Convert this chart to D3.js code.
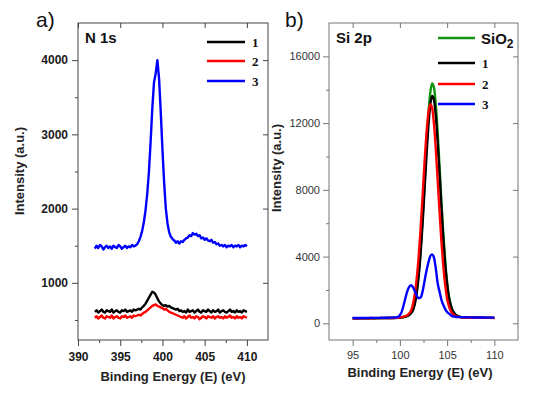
<!DOCTYPE html>
<html>
<head>
<meta charset="utf-8">
<script src="https://cdn.jsdelivr.net/npm/d3@7"></script>
<style>
  body { margin: 0; background: #fff; }
  svg { font-family: "Liberation Sans", Arial, sans-serif; }
</style>
</head>
<body>
<div id="chart"></div>
<script>
// ---- a) N 1s ----
const n1sEnergy = [
  392.0, 392.2, 392.4, 392.6, 392.8, 393.0, 393.2, 393.4, 393.6, 393.8,
  394.0, 394.2, 394.4, 394.6, 394.8, 395.0, 395.2, 395.4, 395.6, 395.8,
  396.0, 396.2, 396.4, 396.6, 396.8, 397.0, 397.2, 397.4, 397.6, 397.8,
  398.0, 398.2, 398.4, 398.6, 398.8, 399.0, 399.2, 399.4, 399.6, 399.8,
  400.0, 400.2, 400.4, 400.6, 400.8, 401.0, 401.2, 401.4, 401.6, 401.8,
  402.0, 402.2, 402.4, 402.6, 402.8, 403.0, 403.2, 403.4, 403.6, 403.8,
  404.0, 404.2, 404.4, 404.6, 404.8, 405.0, 405.2, 405.4, 405.6, 405.8,
  406.0, 406.2, 406.4, 406.6, 406.8, 407.0, 407.2, 407.4, 407.6, 407.8,
  408.0, 408.2, 408.4, 408.6, 408.8, 409.0, 409.2, 409.4, 409.6, 409.8,
  410.0
];
const n1sSample1 = [
  610, 630, 600, 620, 640, 610, 600, 630, 620, 610,
  640, 600, 620, 630, 610, 600, 630, 620, 640, 610,
  620, 630, 610, 640, 630, 640, 650, 640, 670, 690,
  720, 760, 800, 840, 880, 870, 840, 790, 750, 720,
  700, 690, 700, 680, 690, 670, 660, 650, 640, 650,
  620, 630, 610, 620, 600, 640, 610, 620, 630, 600,
  620, 640, 610, 600, 630, 620, 610, 640, 620, 600,
  630, 610, 620, 640, 600, 620, 630, 610, 600, 620,
  640, 610, 620, 600, 630, 610, 620, 600, 630, 620,
  610
];
const n1sSample2 = [
  530, 550, 520, 540, 560, 530, 520, 550, 540, 530,
  560, 520, 540, 550, 530, 520, 550, 540, 560, 530,
  540, 550, 530, 560, 550, 560, 570, 560, 580, 600,
  610, 630, 650, 670, 690, 700, 710, 690, 680, 670,
  660, 640, 650, 630, 610, 600, 590, 580, 570, 560,
  550, 540, 530, 550, 520, 540, 560, 530, 540, 520,
  550, 540, 510, 530, 550, 540, 520, 550, 540, 530,
  550, 520, 540, 550, 530, 540, 520, 550, 530, 540,
  560, 530, 540, 520, 550, 530, 540, 520, 550, 540,
  530
];
const n1sSample3 = [
  1460, 1500, 1470, 1510, 1490, 1450, 1480, 1500, 1470, 1490,
  1460, 1500, 1480, 1470, 1510, 1490, 1460, 1480, 1500, 1470,
  1490, 1480, 1510, 1490, 1500, 1520, 1560, 1620, 1700, 1820,
  1980, 2200, 2500, 2900, 3350, 3700, 3820, 4000, 3750, 3300,
  2800, 2350, 2000, 1800, 1680, 1620, 1590, 1570, 1540, 1560,
  1530, 1560, 1550, 1580, 1600, 1610, 1640, 1630, 1670, 1650,
  1660, 1630, 1640, 1600, 1610, 1580, 1600, 1570, 1560, 1580,
  1540, 1550, 1520, 1530, 1500, 1510, 1490, 1510, 1480, 1500,
  1490, 1510, 1480, 1500, 1490, 1510, 1480, 1500, 1490, 1510,
  1490
];
const n1sXTicks = [390, 395, 400, 405, 410];
const n1sXMinor = [392.5, 397.5, 402.5, 407.5];
const n1sYTicks = [1000, 2000, 3000, 4000];
const n1sYMinor = [500, 1500, 2500, 3500];

// ---- b) Si 2p ----
const si2pEnergy = [
  95, 95.5, 96, 96.5, 97, 97.5, 98, 98.5, 99, 99.5,
  99.8, 100.0, 100.2, 100.4, 100.6, 100.8, 101.0, 101.2, 101.4, 101.6,
  101.8, 102.0, 102.2, 102.4, 102.6, 102.8, 103.0, 103.2, 103.4, 103.6,
  103.8, 104.0, 104.2, 104.4, 104.6, 104.8, 105.0, 105.2, 105.4, 105.6,
  105.8, 106.0, 106.2, 106.4, 106.6, 106.8, 107.0,
  107.5, 108, 108.5, 109, 109.5, 110
];
const si2pSiO2 = [
  300, 300, 305, 300, 310, 305, 310, 315, 315, 325,
  330, 340, 360, 380, 410, 450, 520, 640, 830, 1270,
  1980, 3030, 4460, 6260, 8320, 10440, 12340, 13730, 14370, 14160,
  13120, 11440, 9380, 7270, 5320, 3700, 2460, 1590, 1080, 760,
  580, 480, 420, 390, 370, 360, 350,
  340, 335, 330, 330, 325, 325
];
const si2pSample1 = [
  300, 305, 300, 310, 305, 310, 315, 310, 320, 320,
  328, 338, 357, 376, 404, 442, 508, 623, 802, 1218,
  1891, 2885, 4240, 5944, 7895, 9903, 11702, 13018, 13624, 13425,
  12441, 10850, 8899, 6901, 5054, 3520, 2346, 1522, 1039, 736,
  565, 470, 414, 385, 366, 357, 347,
  340, 335, 330, 325, 330, 325
];
const si2pSample2 = [
  305, 300, 310, 305, 310, 315, 310, 320, 320, 325,
  336, 355, 373, 400, 437, 501, 610, 783, 1185, 1832,
  2790, 4094, 5736, 7614, 9548, 11280, 12548, 13132, 12940, 11992,
  10460, 8581, 6657, 4878, 3401, 2270, 1476, 1011, 720, 555,
  464, 409, 382, 364, 355, 346, 340,
  335, 330, 330, 325, 325, 320
];
const si2pSample3 = [
  320, 315, 325, 320, 330, 325, 330, 335, 340, 355,
  380, 480, 700, 1100, 1550, 1950, 2200, 2280, 2150, 1900,
  1650, 1500, 1550, 1900, 2500, 3100, 3600, 4000, 4130, 3950,
  3300, 2400, 1900, 1400, 1100, 850, 680, 580, 480, 420,
  400, 380, 375, 370, 365, 360, 360,
  355, 350, 345, 345, 340, 340
];
const si2pXTicks = [95, 100, 105, 110];
const si2pXMinor = [97.5, 102.5, 107.5];
const si2pYTicks = [0, 4000, 8000, 12000, 16000];
const si2pYMinor = [2000, 6000, 10000, 14000];

const svg = d3.select("#chart").append("svg")
  .attr("width", 543)
  .attr("height", 395);

const plotTop = 23, plotBottom = 340;

function drawPanel(cfg) {
  const x = d3.scaleLinear().domain(cfg.xDomain).range([cfg.left, cfg.right]);
  const y = d3.scaleLinear().domain(cfg.yDomain).range([plotBottom, plotTop]);
  const g = svg.append("g");

  g.append("clipPath").attr("id", "clip-" + cfg.id)
    .append("rect")
    .attr("x", cfg.left).attr("y", plotTop)
    .attr("width", cfg.right - cfg.left).attr("height", plotBottom - plotTop);

  // minor ticks (outside, bottom + left)
  g.append("g").attr("transform", `translate(0,${plotBottom})`)
    .call(d3.axisBottom(x).tickValues(cfg.xMinor).tickSize(3).tickFormat(""));
  g.append("g").attr("transform", `translate(${cfg.left},0)`)
    .call(d3.axisLeft(y).tickValues(cfg.yMinor).tickSize(3).tickFormat(""));

  // major ticks with labels
  g.append("g").attr("class", "lbl").attr("transform", `translate(0,${plotBottom})`)
    .call(d3.axisBottom(x).tickValues(cfg.xTicks).tickSize(6).tickPadding(cfg.xPad).tickFormat(d3.format("d")));
  g.append("g").attr("class", "lbl").attr("transform", `translate(${cfg.left},0)`)
    .call(d3.axisLeft(y).tickValues(cfg.yTicks).tickSize(6).tickPadding(cfg.yPad).tickFormat(d3.format("d")));

  // mirrored ticks (inside, top + right)
  g.append("g").attr("transform", `translate(0,${plotTop})`)
    .call(d3.axisTop(x).tickValues(cfg.xTicks).tickSize(-5).tickFormat(""));
  g.append("g").attr("transform", `translate(${cfg.right},0)`)
    .call(d3.axisRight(y).tickValues(cfg.yTicks).tickSize(-5).tickFormat(""));

  g.selectAll(".domain").remove();
  g.selectAll(".tick line").attr("stroke", cfg.axisColor);
  g.selectAll(".lbl text")
    .attr("fill", cfg.labelColor)
    .attr("font-family", '"Liberation Sans", Arial, sans-serif')
    .attr("font-size", cfg.tickFont)
    .attr("font-weight", cfg.tickWeight);

  g.append("rect")
    .attr("x", cfg.left).attr("y", plotTop)
    .attr("width", cfg.right - cfg.left).attr("height", plotBottom - plotTop)
    .attr("fill", "none").attr("stroke", cfg.axisColor).attr("stroke-width", 1);

  const line = d3.line()
    .x(d => x(d[0]))
    .y(d => y(d[1]))
    .curve(cfg.curve);

  cfg.series.forEach(s => {
    g.append("path")
      .datum(cfg.energy.map((e, i) => [e, s.values[i]]))
      .attr("clip-path", `url(#clip-${cfg.id})`)
      .attr("fill", "none")
      .attr("stroke", s.color)
      .attr("stroke-width", 2.4)
      .attr("stroke-linejoin", "round")
      .attr("d", line);
  });

  // axis titles
  g.append("text")
    .attr("x", cfg.xTitleX).attr("y", cfg.xTitleY)
    .attr("text-anchor", "middle")
    .attr("font-size", 13).attr("font-weight", "bold").attr("fill", "#222")
    .text("Binding Energy (E) (eV)");
  g.append("text")
    .attr("transform", `translate(${cfg.yTitleX},${cfg.yTitleY}) rotate(-90)`)
    .attr("text-anchor", "middle")
    .attr("font-size", 13).attr("font-weight", "bold").attr("fill", "#222")
    .text("Intensity (a.u.)");

  // panel letter + core level
  g.append("text")
    .attr("x", cfg.letterX).attr("y", 27)
    .attr("font-size", 21).attr("fill", "#111")
    .text(cfg.letter);
  g.append("text")
    .attr("x", cfg.left + 7).attr("y", 43)
    .attr("font-size", 15).attr("font-weight", "bold").attr("fill", "#111")
    .text(cfg.title);

  // legend
  cfg.series.forEach(s => {
    g.append("line")
      .attr("x1", cfg.legX1).attr("x2", cfg.legX2)
      .attr("y1", s.legY).attr("y2", s.legY)
      .attr("stroke", s.color).attr("stroke-width", 2.4);
    if (s.name === "SiO2") {
      const t = g.append("text")
        .attr("x", cfg.legX2 + 6).attr("y", s.legY + 6)
        .attr("font-size", 15).attr("font-weight", "bold").attr("fill", "#111");
      t.append("tspan").text("SiO");
      t.append("tspan").attr("font-size", 12).attr("dy", 4).text("2");
    } else {
      g.append("text")
        .attr("x", cfg.legX2 + 7).attr("y", s.legY)
        .attr("dy", "0.35em")
        .attr("font-family", '"Liberation Serif", "Times New Roman", serif')
        .attr("font-size", 13).attr("font-weight", "bold").attr("fill", "#111")
        .text(s.name);
    }
  });
}

drawPanel({
  id: "n1s", letter: "a)", letterX: 36, title: "N 1s",
  left: 78, right: 268,
  xDomain: [390, 412.5], yDomain: [230, 4500],
  xTicks: n1sXTicks, xMinor: n1sXMinor, yTicks: n1sYTicks, yMinor: n1sYMinor,
  xPad: 6, yPad: 4,
  axisColor: "#444", labelColor: "#1a1a1a", tickFont: 12, tickWeight: "bold",
  energy: n1sEnergy, curve: d3.curveLinear,
  xTitleX: 173, xTitleY: 381, yTitleX: 24, yTitleY: 171,
  legX1: 207, legX2: 245,
  series: [
    { name: "2", values: n1sSample2, color: "#ff0000", legY: 61 },
    { name: "1", values: n1sSample1, color: "#000000", legY: 42 },
    { name: "3", values: n1sSample3, color: "#0000ff", legY: 81 }
  ]
});

drawPanel({
  id: "si2p", letter: "b)", letterX: 285, title: "Si 2p",
  left: 329, right: 518,
  xDomain: [92.5, 112.5], yDomain: [-1000, 18000],
  xTicks: si2pXTicks, xMinor: si2pXMinor, yTicks: si2pYTicks, yMinor: si2pYMinor,
  xPad: 5, yPad: 3,
  axisColor: "#777", labelColor: "#333", tickFont: 11, tickWeight: "normal",
  energy: si2pEnergy, curve: d3.curveMonotoneX,
  xTitleX: 420, xTitleY: 377, yTitleX: 281, yTitleY: 168,
  legX1: 438, legX2: 475,
  series: [
    { name: "SiO2", values: si2pSiO2, color: "#149214", legY: 38 },
    { name: "1", values: si2pSample1, color: "#000000", legY: 63 },
    { name: "2", values: si2pSample2, color: "#ff0000", legY: 84 },
    { name: "3", values: si2pSample3, color: "#0000ff", legY: 104 }
  ]
});
</script>
</body>
</html>
